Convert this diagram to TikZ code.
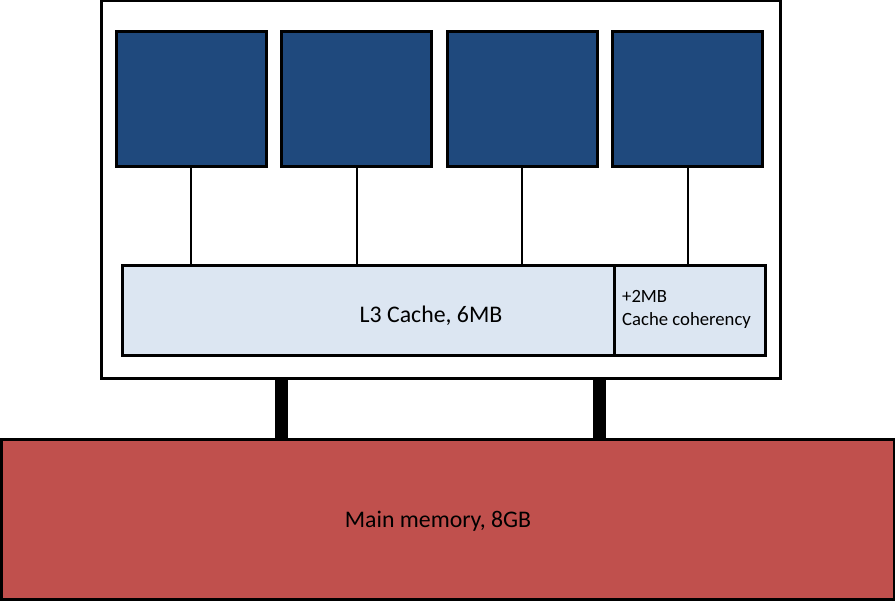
\documentclass[tikz,border=0pt]{standalone}
\usepackage{fontspec}
\setmainfont{Carlito}
\usepackage{xcolor}
\usepackage{tikz}
\usetikzlibrary{positioning}
\definecolor{corefill}{HTML}{1F497D}
\definecolor{cachefill}{HTML}{DCE6F2}
\definecolor{memfill}{HTML}{C0504D}
\newcommand\bigtxt{\fontsize{23.8}{28}\selectfont}
\newcommand\smalltxt{\fontsize{18.7}{23}\selectfont}
\tikzstyle{box}=[draw,line width=3pt,inner sep=0pt,outer sep=0pt]
\tikzstyle{chip}=[box,fill=white,minimum width=679pt,minimum height=378pt]
\tikzstyle{core}=[box,fill=corefill,minimum width=150pt,minimum height=135pt]
\tikzstyle{cache}=[box,fill=cachefill,minimum height=90pt]
\tikzstyle{mem}=[box,fill=memfill,minimum width=893pt,minimum height=159pt]
\tikzstyle{wire}=[line width=2pt]
\tikzstyle{bus}=[line width=13pt]

\begin{document}
\begin{tikzpicture}[x=1pt,y=-1pt]
	\useasboundingbox (0,0) rectangle (895,601);
	\node[chip] (chip) at (440.5,190) {};
	% cores
	\node[core] (c1) at (191,99.5) {};
	\node[core,right=15.5pt of c1] (c2) {};
	\node[core,right=15.5pt of c2] (c3) {};
	\node[core,right=15.5pt of c3] (c4) {};
	% cache
	\node[cache,minimum width=492pt] (l3) at (368,311) {};
	\node[cache,minimum width=151pt,right=0pt of l3] (coh) {};
	\node[anchor=center,font=\bigtxt] (l3t) at (431,316) {L3 Cache, 6MB};
	\node[anchor=west,align=left,inner sep=0pt,font=\smalltxt] (coht) at (622,309)
		{+2MB\\Cache coherency};
	\draw[wire] (c1.south) -- (c1.south |- l3.north);
	\draw[wire] (c2.south) -- (c2.south |- l3.north);
	\draw[wire] (c3.south) -- (c3.south |- l3.north);
	\draw[wire] (c4.south) -- (c4.south |- coh.north);
	% memory
	\node[mem] (mm) at (447.5,519.5) {};
	\node[font=\bigtxt] (mmt) at (438,521) {Main memory, 8GB};
	\coordinate (b1) at (281.5,379);
	\coordinate (b2) at (599.5,379);
	\draw[bus] (b1) -- (b1 |- mm.north);
	\draw[bus] (b2) -- (b2 |- mm.north);
\end{tikzpicture}
\end{document}
